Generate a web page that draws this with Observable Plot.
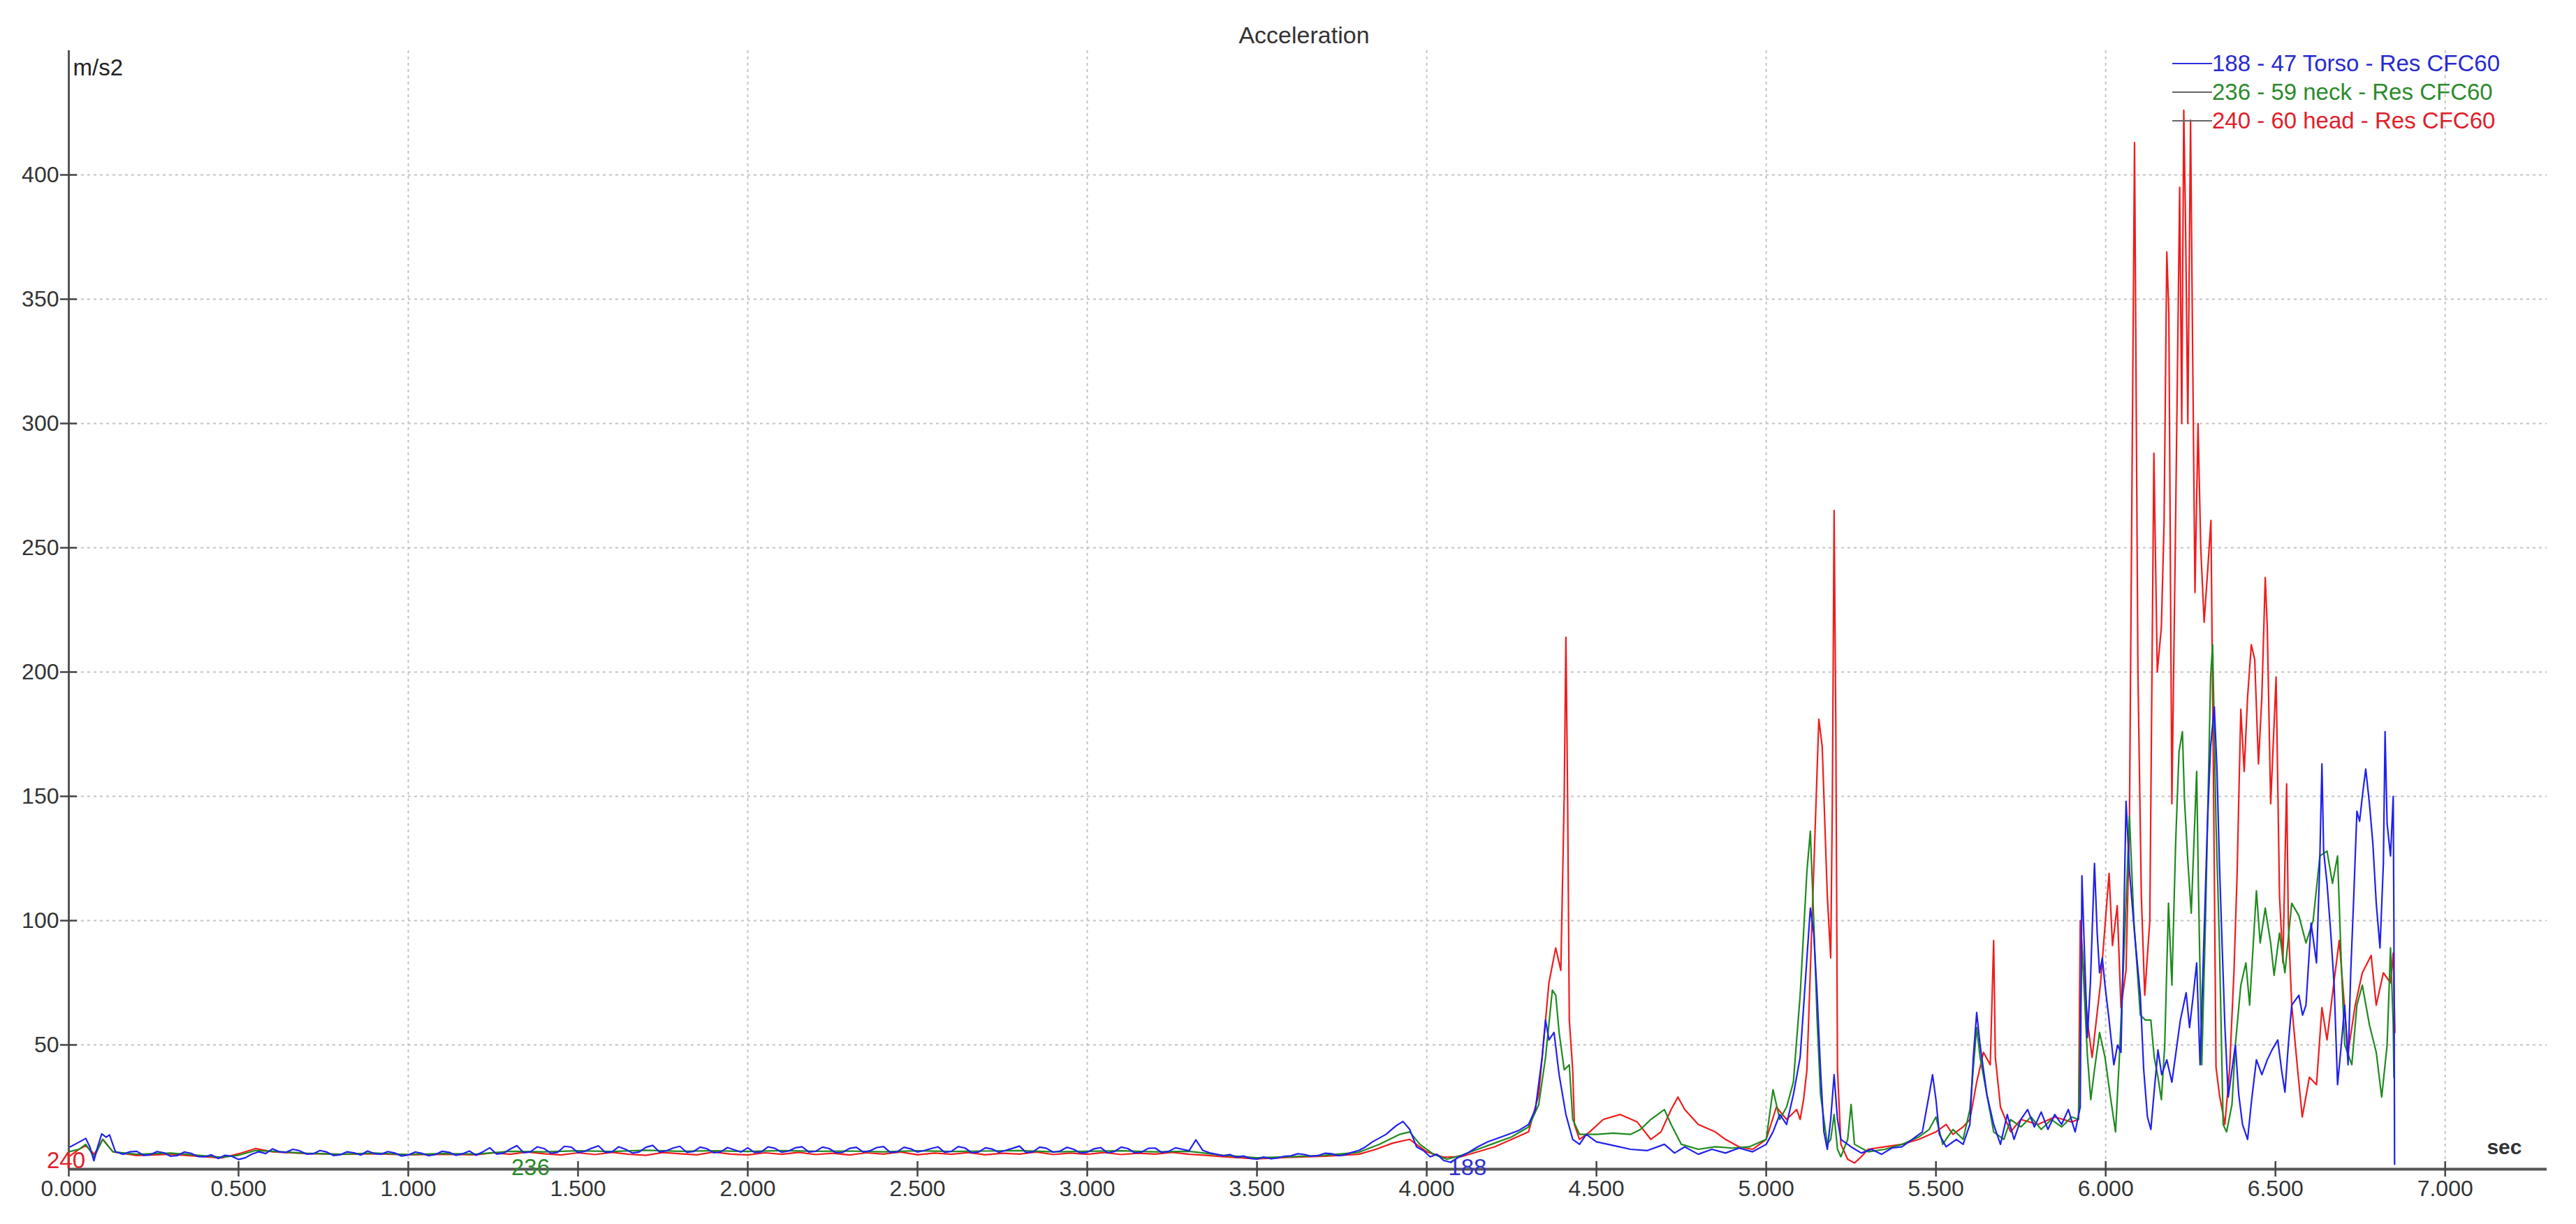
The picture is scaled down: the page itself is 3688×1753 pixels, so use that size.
<!DOCTYPE html>
<html>
<head>
<meta charset="utf-8">
<script src="https://cdn.jsdelivr.net/npm/d3@7"></script>
<script src="https://cdn.jsdelivr.net/npm/@observablehq/plot@0.6"></script>
<style>
  html, body { margin: 0; padding: 0; background: #fff; overflow: hidden; }
  body { font-family: "Liberation Sans", Arial, sans-serif; color: #333; }
  #wrap { position: relative; width: 3688px; height: 1753px; }
  #title { width: 3688px; height: 67px; box-sizing: border-box; padding-top: 33px; padding-left: 46px;
           text-align: center; font-size: 34px; line-height: 34px; color: #333; }
  #legend { position: absolute; left: 3110px; top: 70px; font-size: 33px; }
  .row { display: flex; align-items: center; height: 41px; line-height: 41px; white-space: nowrap; }
  .swatch { width: 57px; height: 2px; margin-right: 0; }
</style>
</head>
<body>
<div id="wrap">
  <div id="title">Acceleration</div>
  <div id="chart"></div>
  <div id="legend"></div>
</div>
<script>
// ---- Data (time in s, acceleration in m/s2) ----
const seriesNames = ["188 - 47 Torso - Res CFC60", "236 - 59 neck - Res CFC60", "240 - 60 head - Res CFC60"];
const seriesColors = ["#2020ee", "#1f8a1f", "#f01c1c"];
const legendTextColors = ["#2a2ad0", "#2d8a2d", "#e0202a"];
const legendLineColors = ["#3030e0", "#666666", "#666666"];
const channelIds = ["188", "236", "240"];
const channelLabelTime = [4.12, 1.36, 0.0];

const xTickValues = [0, 0.5, 1, 1.5, 2, 2.5, 3, 3.5, 4, 4.5, 5, 5.5, 6, 6.5, 7];
const xGridValues = [1, 2, 3, 4, 5, 6, 7];
const yTickValues = [50, 100, 150, 200, 250, 300, 350, 400];

const torso = [
  [0,8.7],[0.025,10.5],[0.05,12.4],[0.062,9],[0.074,3.4],[0.085,9],[0.097,14.2],[0.11,12.9],[0.12,13.8],[0.137,7.1],
  [0.16,6.0],[0.18,7.0],[0.20,7.2],[0.22,5.6],[0.24,5.8],[0.26,7.1],[0.28,6.6],[0.30,5.2],[0.32,5.5],[0.34,6.9],
  [0.36,6.4],[0.38,5.1],[0.40,5.0],[0.42,5.8],[0.44,4.3],[0.46,5.6],[0.48,5.2],[0.50,3.9],[0.52,4.6],[0.54,6.1],
  [0.56,7.0],[0.58,6.3],[0.60,8.2],[0.62,7.0],[0.64,6.8],[0.66,8.0],[0.68,7.4],[0.70,6.1],[0.72,6.2],[0.74,7.5],
  [0.76,6.9],[0.78,5.5],[0.80,5.8],[0.82,7.0],[0.84,6.6],[0.86,5.7],[0.88,7.3],[0.90,6.3],[0.92,6.0],[0.94,7.1],
  [0.96,6.5],[0.98,5.3],[1.00,5.7],[1.02,6.9],[1.04,6.4],[1.06,5.4],[1.08,5.9],[1.10,7.2],[1.12,6.8],[1.14,5.6],
  [1.16,6.2],[1.18,7.3],[1.20,5.6],[1.22,7.0],[1.24,8.6],[1.26,6.1],[1.28,6.4],[1.30,8.1],[1.32,9.5],[1.34,6.6],
  [1.36,7.0],[1.38,9.0],[1.40,8.3],[1.42,6.4],[1.44,6.8],[1.46,9.2],[1.48,8.9],[1.50,6.7],[1.52,7.2],[1.54,8.4],
  [1.56,9.4],[1.58,6.8],[1.60,7.0],[1.62,9.0],[1.64,8.0],[1.66,6.5],[1.68,6.9],[1.70,8.8],[1.72,9.6],[1.74,6.9],
  [1.76,7.4],[1.78,8.5],[1.80,9.2],[1.82,6.8],[1.84,7.1],[1.86,8.9],[1.88,8.2],[1.90,6.6],[1.92,6.9],[1.94,8.7],
  [1.96,7.8],[1.98,6.9],[2.00,8.6],[2.02,6.7],[2.04,7.0],[2.06,9.0],[2.08,8.4],[2.10,6.8],[2.12,7.3],[2.14,8.6],
  [2.16,9.0],[2.18,6.9],[2.20,7.2],[2.22,8.9],[2.24,8.3],[2.26,6.6],[2.28,6.8],[2.30,8.4],[2.32,8.8],[2.34,6.9],
  [2.36,7.4],[2.38,8.7],[2.40,9.1],[2.42,6.7],[2.44,7.0],[2.46,8.8],[2.48,8.2],[2.50,6.9],[2.52,7.5],[2.54,8.3],
  [2.56,9.0],[2.58,6.8],[2.60,7.2],[2.62,9.1],[2.64,8.5],[2.66,6.6],[2.68,6.9],[2.70,8.6],[2.72,8.1],[2.74,6.8],
  [2.76,7.6],[2.78,8.4],[2.80,9.3],[2.82,6.7],[2.84,7.0],[2.86,8.9],[2.88,8.4],[2.90,6.8],[2.92,7.3],[2.94,8.8],
  [2.96,8.0],[2.98,6.5],[3.00,6.8],[3.02,8.2],[3.04,8.7],[3.06,6.6],[3.08,7.1],[3.10,8.9],[3.12,8.3],[3.14,6.6],
  [3.16,6.9],[3.18,8.4],[3.20,8.5],[3.22,6.7],[3.24,7.2],[3.26,8.6],[3.28,8.0],[3.30,7.4],[3.32,11.8],[3.34,7.6],
  [3.36,6.6],[3.38,6.0],[3.40,5.4],[3.42,5.9],[3.44,4.8],[3.46,5.3],[3.48,4.4],[3.50,4.0],[3.52,4.9],[3.54,4.2],
  [3.56,4.5],[3.58,5.2],[3.60,5.4],[3.62,6.2],[3.64,5.9],[3.66,5.2],[3.68,5.5],[3.70,6.4],[3.72,6.2],[3.74,5.4],
  [3.76,5.8],[3.78,6.8],[3.80,7.5],[3.82,9.0],[3.84,11.0],[3.88,14.0],[3.91,17.5],[3.93,19.2],[3.95,16.0],[3.97,9.0],
  [3.99,7.5],[4.01,5.0],[4.03,6.0],[4.05,3.5],[4.07,2.8],[4.09,4.5],[4.12,6.5],[4.15,9.0],[4.18,11.0],[4.21,12.5],
  [4.24,14.0],[4.27,15.5],[4.30,18.0],[4.32,24.0],[4.34,45.0],[4.35,60.0],[4.36,52.0],[4.375,55.0],[4.39,38.0],[4.41,22.0],
  [4.43,12.0],[4.45,10.0],[4.47,14.0],[4.50,11.0],[4.55,9.5],[4.60,8.0],[4.65,7.5],[4.70,10.0],[4.73,6.5],[4.76,9.0],
  [4.80,6.0],[4.84,8.0],[4.88,6.5],[4.92,8.5],[4.96,7.0],[5.00,10.0],[5.02,15.0],[5.04,22.0],[5.06,18.0],[5.08,30.0],
  [5.10,45.0],[5.12,85.0],[5.13,105.0],[5.14,95.0],[5.15,70.0],[5.16,40.0],[5.17,15.0],[5.18,8.0],[5.19,20.0],[5.20,38.0],
  [5.21,20.0],[5.22,12.0],[5.25,9.0],[5.28,6.5],[5.31,8.0],[5.34,6.0],[5.37,8.5],[5.40,9.0],[5.43,12.0],[5.46,15.0],
  [5.48,30.0],[5.49,38.0],[5.50,28.0],[5.51,14.0],[5.53,9.0],[5.56,12.0],[5.58,10.0],[5.60,18.0],[5.61,45.0],[5.62,63.0],
  [5.63,50.0],[5.65,30.0],[5.67,18.0],[5.69,10.0],[5.71,22.0],[5.73,12.0],[5.75,20.0],[5.77,24.0],[5.79,17.0],[5.81,23.0],
  [5.83,16.0],[5.85,22.0],[5.87,18.0],[5.89,24.0],[5.91,15.0],[5.925,25.0],[5.93,118],[5.946,53],[5.955,75],[5.967,123],
  [5.975,95],[5.982,79],[5.99,85],[5.998,74],[6.01,60],[6.024,42],[6.035,50],[6.045,47],[6.052,90],[6.06,148],
  [6.07,120],[6.085,95],[6.102,70],[6.112,40],[6.123,21],[6.133,16],[6.142,30],[6.154,48],[6.165,38],[6.18,44],
  [6.195,35],[6.206,46],[6.22,60],[6.237,71],[6.247,57],[6.258,70],[6.268,83],[6.278,42],[6.29,95],[6.3,140],
  [6.309,170],[6.32,186],[6.328,160],[6.335,123],[6.343,90],[6.351,58],[6.361,29],[6.372,40],[6.382,50],[6.392,30],
  [6.403,18],[6.418,12],[6.43,28],[6.444,44],[6.46,38],[6.476,44],[6.49,48],[6.507,52],[6.518,40],[6.528,31],
  [6.538,50],[6.548,66],[6.569,70],[6.58,62],[6.59,66],[6.605,99],[6.621,83],[6.63,120],[6.637,163],[6.642,128],
  [6.652,115],[6.663,95],[6.673,74],[6.683,34],[6.694,50],[6.704,66],[6.714,42],[6.722,80],[6.73,107],[6.74,144],
  [6.748,140],[6.756,150],[6.766,161],[6.777,147],[6.787,131],[6.797,107],[6.808,89],[6.818,123],[6.823,176],[6.829,139],
  [6.839,126],[6.847,150],[6.849,99],[6.851,2]
];

const neck = [
  [0,7],[0.03,8],[0.05,10],[0.075,5],[0.1,12],[0.13,7],[0.2,6],[0.3,6.5],[0.4,5.4],[0.45,4.8],
  [0.5,5.6],[0.55,7.5],[0.6,7.2],[0.7,6.4],[0.8,6.0],[0.9,6.5],[1.0,5.9],[1.1,6.3],[1.2,6.1],[1.3,7.2],
  [1.4,7.0],[1.5,7.4],[1.6,7.1],[1.7,7.6],[1.8,7.2],[1.9,7.4],[2.0,7.1],[2.1,7.5],[2.2,7.2],[2.3,7.3],
  [2.4,7.0],[2.5,7.4],[2.6,7.1],[2.7,7.3],[2.8,7.5],[2.9,7.0],[3.0,7.2],[3.1,7.4],[3.2,7.0],[3.3,7.2],
  [3.4,5.6],[3.5,4.6],[3.6,5.0],[3.7,5.6],[3.8,6.8],[3.86,10],[3.92,14],[3.95,15],[3.98,10],[4.02,6],
  [4.06,4],[4.1,5.5],[4.15,8],[4.2,10.5],[4.25,13],[4.3,17],[4.33,26],[4.35,45],[4.37,72],[4.38,70],
  [4.39,55],[4.405,40],[4.42,42],[4.43,20],[4.45,14],[4.5,14],[4.55,14.5],[4.6,14],[4.63,16],[4.66,20],
  [4.7,24],[4.72,18],[4.75,10],[4.8,8],[4.85,9],[4.9,8.5],[4.95,9],[5.0,12],[5.02,32],[5.04,20],
  [5.06,25],[5.08,35],[5.1,70],[5.12,120],[5.13,136],[5.14,100],[5.15,60],[5.16,30],[5.17,20],[5.18,10],
  [5.19,12],[5.2,22],[5.21,8],[5.22,5],[5.24,12],[5.25,26],[5.26,10],[5.3,7],[5.35,8],[5.4,10],
  [5.45,13],[5.48,16],[5.5,21],[5.52,10],[5.55,16],[5.58,12],[5.6,24],[5.62,57],[5.63,45],[5.65,30],
  [5.67,15],[5.7,12],[5.72,20],[5.75,17],[5.78,21],[5.81,16],[5.84,20],[5.87,17],[5.9,21],[5.92,20],
  [5.93,90],[5.946,46],[5.956,28],[5.967,40],[5.982,55],[5.998,45],[6.013,30],[6.029,15],[6.04,44],[6.055,90],
  [6.07,142],[6.083,100],[6.102,62],[6.117,60],[6.133,60],[6.143,45],[6.154,37],[6.164,28],[6.174,50],[6.185,107],
  [6.195,74],[6.206,131],[6.216,168],[6.226,176],[6.232,149],[6.242,124],[6.252,103],[6.268,160],[6.273,115],[6.283,42],
  [6.294,100],[6.309,198],[6.315,211],[6.325,139],[6.335,91],[6.346,18],[6.356,15],[6.372,26],[6.382,50],[6.398,74],
  [6.413,83],[6.424,66],[6.444,112],[6.455,91],[6.47,105],[6.486,91],[6.496,78],[6.512,95],[6.528,79],[6.548,107],
  [6.569,102],[6.59,91],[6.611,100],[6.631,126],[6.652,128],[6.668,115],[6.683,126],[6.694,83],[6.704,50],[6.725,42],
  [6.74,66],[6.756,74],[6.777,58],[6.797,47],[6.813,29],[6.829,50],[6.839,89],[6.847,58],[6.849,37]
];

const head = [
  [0,5],[0.03,8],[0.05,9.5],[0.075,6],[0.1,12],[0.13,7],[0.2,5.5],[0.3,6],[0.4,5],[0.45,4.5],
  [0.5,6.2],[0.55,8.3],[0.6,7],[0.7,6.3],[0.8,6],[0.9,6.2],[1.0,5.8],[1.1,6],
  [1.20,5.8],[1.25,6.6],[1.30,6.0],[1.35,6.9],[1.40,6.2],[1.45,5.7],[1.50,6.6],[1.55,5.9],[1.60,6.8],[1.65,6.0],
  [1.70,5.6],[1.75,6.7],[1.80,6.2],[1.85,5.8],[1.90,6.9],[1.95,6.1],[2.00,5.7],[2.05,6.6],[2.10,6.0],[2.15,6.8],
  [2.20,5.9],[2.25,6.4],[2.30,5.7],[2.35,6.6],[2.40,6.1],[2.45,6.9],[2.50,5.8],[2.55,6.5],[2.60,6.0],[2.65,6.7],
  [2.70,5.8],[2.75,6.4],[2.80,6.1],[2.85,6.9],[2.90,5.9],[2.95,6.5],[3.00,6.0],[3.05,6.7],[3.10,5.9],[3.15,6.4],
  [3.20,6.1],[3.25,6.8],[3.30,6.0],[3.35,5.6],[3.40,5.0],
  [3.5,4.2],[3.6,4.8],[3.7,5.2],[3.8,6],[3.85,8],[3.9,10.5],[3.95,12],[4.0,7],[4.05,4.8],
  [4.1,5],[4.2,9],[4.3,15],[4.33,30],[4.36,75],[4.38,89],[4.395,80],[4.405,150],[4.41,214],[4.415,150],
  [4.42,60],[4.43,40],[4.435,18],[4.45,12],[4.48,15],[4.52,20],[4.57,22],[4.62,19],[4.66,12],[4.69,15],
  [4.72,24],[4.74,29],[4.76,24],[4.8,18],[4.85,15],[4.88,12],[4.92,9],[4.96,8],[5.0,12],[5.03,25],
  [5.06,20],[5.09,24],[5.1,20],[5.11,28],[5.12,40],[5.14,120],[5.155,181],[5.165,170],[5.18,110],[5.19,85],
  [5.195,150],[5.2,265],[5.205,180],[5.21,40],[5.22,10],[5.24,4],[5.26,2.5],[5.28,5],[5.3,8],[5.35,9],
  [5.4,10],[5.45,12],[5.5,15],[5.53,18],[5.55,14],[5.58,17],[5.6,20],[5.62,35],[5.64,47],[5.66,42],
  [5.67,92],[5.675,45],[5.69,25],[5.72,15],[5.75,20],[5.8,18],[5.85,21],[5.9,19],[5.92,20],[5.925,100],
  [5.946,60],[5.96,45],[5.985,75],[6.01,119],[6.02,90],[6.034,106],[6.045,65],[6.06,80],[6.07,140],[6.085,413],
  [6.095,200],[6.105,110],[6.115,70],[6.13,100],[6.142,288],[6.152,200],[6.164,218],[6.172,260],[6.18,369],[6.186,345],
  [6.195,147],[6.205,250],[6.218,395],[6.224,300],[6.23,426],[6.235,383],[6.242,300],[6.25,422],[6.256,331],[6.263,232],
  [6.272,300],[6.28,250],[6.29,220],[6.3,240],[6.31,261],[6.318,150],[6.325,41],[6.335,30],[6.351,18],[6.365,40],
  [6.378,80],[6.387,118],[6.398,185],[6.408,160],[6.418,190],[6.429,211],[6.439,205],[6.45,163],[6.46,190],[6.47,238],
  [6.476,218],[6.486,147],[6.502,198],[6.512,110],[6.522,83],[6.533,155],[6.538,99],[6.548,66],[6.564,42],[6.579,21],
  [6.6,37],[6.621,34],[6.637,65],[6.652,52],[6.673,76],[6.688,92],[6.714,47],[6.735,66],[6.756,79],[6.782,86],
  [6.797,66],[6.818,79],[6.839,75],[6.847,87],[6.852,55]
];

// ---- Chart ----
const font = "'Liberation Sans', Arial, sans-serif";
const lineOpts = (c) => ({x: d => d[0], y: d => d[1], stroke: c, strokeWidth: 2.2, curve: "linear"});

const chart = Plot.plot({
  width: 3688,
  height: 1686,
  marginLeft: 98,
  marginRight: 42,
  marginTop: 5,
  marginBottom: 79,
  style: {fontFamily: font, fontSize: "32px", color: "#333", background: "#fff", overflow: "visible"},
  x: {domain: [0, 7.3], ticks: xTickValues, tickFormat: d => d.toFixed(3), tickSize: 0, tickPadding: 16, label: null},
  y: {domain: [0, 450], ticks: yTickValues, tickFormat: d => String(d), tickSize: 0, tickPadding: 14, label: null},
  marks: [
    Plot.ruleY(yTickValues, {stroke: "#c4c4c4", strokeWidth: 2, strokeDasharray: "4,5"}),
    Plot.ruleX(xGridValues, {stroke: "#c4c4c4", strokeWidth: 2, strokeDasharray: "4,5"}),
    Plot.line(head, lineOpts(seriesColors[2])),
    Plot.line(neck, lineOpts(seriesColors[1])),
    Plot.line(torso, lineOpts(seriesColors[0])),
    Plot.ruleY([0], {stroke: "#555", strokeWidth: 4}),
    Plot.ruleX([0], {stroke: "#555", strokeWidth: 3}),
    Plot.ruleX(xTickValues, {y1: 0, y2: 0, insetTop: -11, insetBottom: -11, stroke: "#444", strokeWidth: 2.5}),
    Plot.ruleY(yTickValues, {x1: 0, x2: 0, insetLeft: -12, insetRight: -12, stroke: "#444", strokeWidth: 2.5}),
    Plot.text(["m/s2"], {frameAnchor: "top-left", dx: 6, dy: 12, lineAnchor: "top", textAnchor: "start", fill: "#222", fontSize: 33}),
    Plot.text(["sec"], {frameAnchor: "bottom-right", dx: -36, dy: -22, lineAnchor: "bottom", textAnchor: "end", fill: "#333", fontSize: 30, fontWeight: "bold"}),
    Plot.text([channelIds[2]], {x: channelLabelTime[2], y: 0, dx: -4, dy: -2, lineAnchor: "bottom", textAnchor: "middle", fill: "#e0202a", fontSize: 33}),
    Plot.text([channelIds[1]], {x: channelLabelTime[1], y: 0, dy: 8, lineAnchor: "bottom", textAnchor: "middle", fill: "#2d8a2d", fontSize: 33}),
    Plot.text([channelIds[0]], {x: channelLabelTime[0], y: 0, dy: 8, lineAnchor: "bottom", textAnchor: "middle", fill: "#3030d0", fontSize: 33})
  ]
});
document.getElementById("chart").appendChild(chart);

// ---- Legend ----
const legend = document.getElementById("legend");
seriesNames.forEach((name, i) => {
  const row = document.createElement("div");
  row.className = "row";
  const sw = document.createElement("span");
  sw.className = "swatch";
  sw.style.background = legendLineColors[i];
  const tx = document.createElement("span");
  tx.textContent = name;
  tx.style.color = legendTextColors[i];
  row.appendChild(sw);
  row.appendChild(tx);
  legend.appendChild(row);
});
</script>
</body>
</html>
